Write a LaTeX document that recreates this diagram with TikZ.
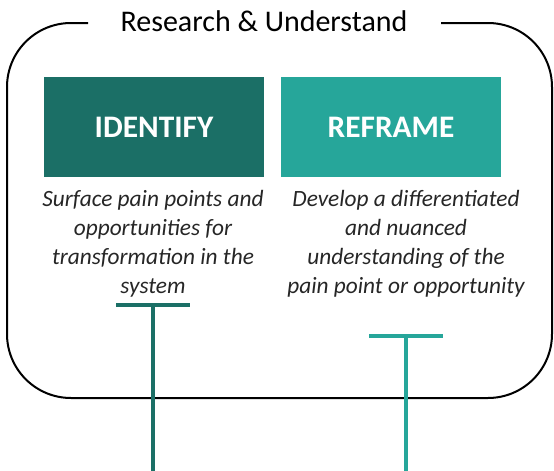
\documentclass[tikz,border=0pt]{standalone}
\usepackage{fontspec}
\setmainfont{Carlito}
\usetikzlibrary{positioning}

\definecolor{darkteal}{RGB}{27,111,102}
\definecolor{lightteal}{RGB}{38,166,154}

\tikzset{every picture/.style={line width=0.75pt}}
\tikzset{
  stagebox/.style={minimum width=220*0.75pt, minimum height=100*0.75pt, inner sep=0pt, text=white, font=\fontsize{23.5}{27}\selectfont\bfseries},
  stagetext/.style={align=center, inner sep=0pt, text=black!85, font=\fontsize{17.5}{21.75}\selectfont\itshape},
  tbar/.style={line width=3pt}
}

\begin{document}
\begin{tikzpicture}[x=0.75pt,y=0.75pt,yscale=-1,xscale=1]
	\useasboundingbox (0,0) rectangle (554,471);
	
	%Rounded frame with gap for title
	\draw [line width=1.5, rounded corners=48]  (88,23) -- (7,23) -- (7,398) -- (552,398) -- (552,23) -- (441,23) ;
	\draw (264,21) node [inner sep=0.75pt, font=\fontsize{22.5}{26}\selectfont] (title)  {Research \& Understand};
	
	%Stage boxes
	\node [stagebox, fill=darkteal] (identify) at (154,127) {IDENTIFY};
	\node [stagebox, fill=lightteal] (reframe) at (391,127) {REFRAME};
	
	\node [stagetext, anchor=north] (identifytext) at (153,190) {Surface pain points and\\ opportunities for\\ transformation in the\\ system};
	\node [stagetext, anchor=north] (reframetext) at (406,190) {Develop a differentiated\\ and nuanced\\ understanding of the\\ pain point or opportunity};
	
	%T markers
	\coordinate (ltop) at (153,305);
	\coordinate (lbot) at (153,471);
	\coordinate (rtop) at (406,336);
	\coordinate (rbot) at (406,471);
	\draw [tbar, darkteal] (116,305) -- (190,305) ;
	\draw [tbar, darkteal] (ltop) -- (lbot) ;
	\draw [tbar, lightteal] (369,336) -- (443,336) ;
	\draw [tbar, lightteal] (rtop) -- (rbot) ;
	
\end{tikzpicture}
\end{document}
